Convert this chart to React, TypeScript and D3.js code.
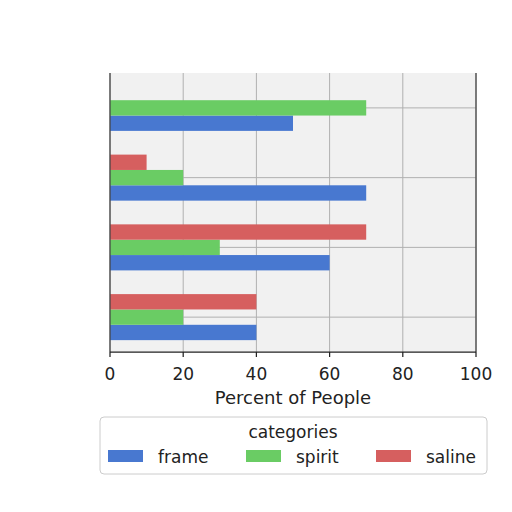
import React from "react";
import * as d3 from "d3";

const groups = ["g1", "g2", "g3", "g4"];
const seriesNames = ["frame", "spirit", "saline"];
const frameValues = [50, 70, 60, 40];
const spiritValues = [70, 20, 30, 20];
const salineValues = [0, 10, 70, 40];
const xTicks = [0, 20, 40, 60, 80, 100];
const colors = ["#4878d0", "#6acc64", "#d65f5f"];
const xLabel = "Percent of People";
const legendTitle = "categories";

const W = 512, H = 512;
const left = 110, right = 476, top = 73, bottom = 352;
const font = "DejaVu Sans, sans-serif";

export default function App() {
  const x = d3.scaleLinear().domain([0, 100]).range([left, right]);
  const y = d3.scaleBand().domain(groups).range([top, bottom]).paddingInner(0.34).paddingOuter(0.17);
  const stackOrder = ["saline", "spirit", "frame"];
  const inner = d3.scaleBand().domain(stackOrder).range([0, y.bandwidth()]);
  const values: Record<string, number[]> = { frame: frameValues, spirit: spiritValues, saline: salineValues };

  const legendX = [108, 246, 376];

  return (
    <svg width={W} height={H} style={{ position: "absolute", left: 0, top: 0 }} fontFamily={font}>
      <rect x={0} y={0} width={W} height={H} fill="#fff" />
      <rect x={left} y={top} width={right - left} height={bottom - top} fill="#f1f1f1" />
      {xTicks.map((t) => (
        <line key={"gx" + t} x1={x(t)} x2={x(t)} y1={top} y2={bottom} stroke="#b0b0b0" strokeWidth={1} />
      ))}
      {groups.map((g) => (
        <line key={"gy" + g} x1={left} x2={right} y1={(y(g) as number) + y.bandwidth() / 2} y2={(y(g) as number) + y.bandwidth() / 2} stroke="#b0b0b0" strokeWidth={1} />
      ))}
      {groups.map((g, gi) =>
        seriesNames.map((s, si) => (
          <rect
            key={g + s}
            x={x(0)}
            y={(y(g) as number) + (inner(s) as number)}
            width={x(values[s][gi]) - x(0)}
            height={inner.bandwidth()}
            fill={colors[si]}
          />
        ))
      )}
      <line x1={left} x2={left} y1={top} y2={bottom} stroke="#444" strokeWidth={1.25} />
      <line x1={right} x2={right} y1={top} y2={bottom} stroke="#444" strokeWidth={1.25} />
      <line x1={left} x2={right} y1={bottom} y2={bottom} stroke="#222" strokeWidth={1.25} />
      {xTicks.map((t) => (
        <g key={"t" + t}>
          <line x1={x(t)} x2={x(t)} y1={bottom} y2={bottom + 5} stroke="#222" strokeWidth={1.25} />
          <text x={x(t)} y={380} textAnchor="middle" fontSize={17} fill="#222">{t}</text>
        </g>
      ))}
      <text x={(left + right) / 2} y={404} textAnchor="middle" fontSize={18} fill="#222">{xLabel}</text>
      <rect x={100} y={417} width={387} height={57} rx={4} fill="#fff" stroke="#cccccc" strokeWidth={1} />
      <text x={293} y={438} textAnchor="middle" fontSize={17} fill="#222">{legendTitle}</text>
      {seriesNames.map((s, i) => (
        <g key={"l" + s}>
          <rect x={legendX[i]} y={450} width={35} height={12} fill={colors[i]} />
          <text x={legendX[i] + 50} y={463} fontSize={17} fill="#222">{s}</text>
        </g>
      ))}
    </svg>
  );
}
